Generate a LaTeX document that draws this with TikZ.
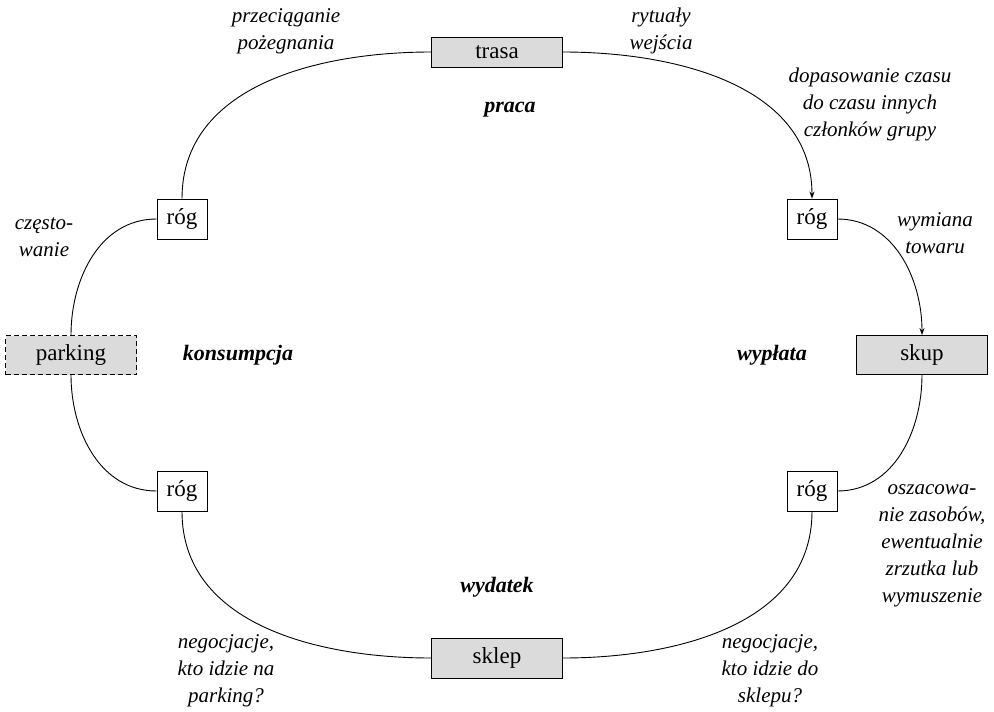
\documentclass[tikz,border=0pt]{standalone}
\usepackage{fontspec}
\setmainfont{Liberation Serif}
\usetikzlibrary{arrows.meta}
\begin{document}
\begin{tikzpicture}[x=1pt,y=-1pt,
  box/.style={draw, line width=0.9pt, inner sep=0pt, font=\fontsize{23}{27}\selectfont},
  gbox/.style={box, fill=black!14, minimum width=131pt, minimum height=39pt},
  cbox/.style={box, fill=white, minimum width=50pt, minimum height=40pt},
  note/.style={align=center, font=\fontsize{21}{27}\selectfont\itshape},
  head/.style={font=\fontsize{22}{27}\selectfont\bfseries\itshape},
  conn/.style={line width=0.9pt},
  arr/.style={conn, -{Stealth[length=7pt,width=5pt]}}]
\useasboundingbox (0,0) rectangle (994,712);

\node[gbox, minimum height=30pt] (trasa) at (497,52) {trasa};
\node[cbox] (tl) at (182,219) {róg};
\node[cbox] (tr) at (812,219) {róg};
\node[gbox, dash pattern=on 5pt off 3pt] (parking) at (71,355) {parking};
\node[gbox] (skup) at (922,355) {skup};
\node[cbox] (bl) at (182,491) {róg};
\node[cbox] (br) at (812,491) {róg};
\node[gbox, minimum height=40pt] (sklep) at (497,658) {sklep};

\draw[conn] (trasa.west) to[out=180,in=90] (tl.north);
\draw[arr] (trasa.east) to[out=0,in=90] (tr.north);
\draw[arr] (tr.east) to[out=0,in=90] (skup.north);
\draw[conn] (skup.south) to[out=-90,in=0] (br.east);
\draw[conn] (br.south) to[out=-90,in=0] (sklep.east);
\draw[conn] (sklep.west) to[out=180,in=-90] (bl.south);
\draw[conn] (bl.west) to[out=180,in=-90] (parking.south);
\draw[conn] (parking.north) to[out=90,in=180] (tl.west);

\node[note] (n1) at (286,31) {przeciąganie\\pożegnania};
\node[note] (n2) at (661,31) {rytuały\\wejścia};
\node[note] (n3) at (870,104) {dopasowanie czasu\\do czasu innych\\członków grupy};
\node[note] (n4) at (44,237) {często-\\wanie};
\node[note] (n5) at (935,233) {wymiana\\towaru};
\node[note] (n6) at (932,546) {oszacowa-\\nie zasobów,\\ewentualnie\\zrzutka lub\\wymuszenie};
\node[note] (n7) at (226,671) {negocjacje,\\kto idzie na\\parking?};
\node[note] (n8) at (770,671) {negocjacje,\\kto idzie do\\sklepu?};

\node[head] (h1) at (510,110) {praca};
\node[head] (h2) at (238,355) {konsumpcja};
\node[head] (h3) at (772,355) {wypłata};
\node[head] (h4) at (497,587) {wydatek};
\end{tikzpicture}
\end{document}
